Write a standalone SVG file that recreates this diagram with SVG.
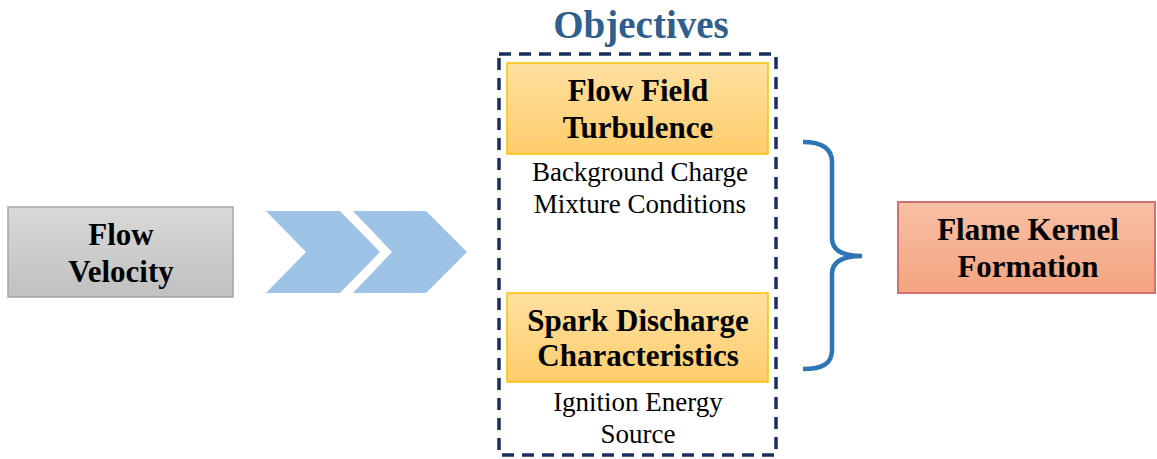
<svg xmlns="http://www.w3.org/2000/svg" width="1157" height="459" viewBox="0 0 1157 459">
<defs>
<linearGradient id="gGray" x1="0" y1="0" x2="0" y2="1"><stop offset="0" stop-color="#d9d9d9"/><stop offset="1" stop-color="#c0c0c0"/></linearGradient>
<linearGradient id="gGold" x1="0" y1="0" x2="0" y2="1"><stop offset="0" stop-color="#ffe0a0"/><stop offset="1" stop-color="#ffcd6c"/></linearGradient>
<linearGradient id="gSalmon" x1="0" y1="0" x2="0" y2="1"><stop offset="0" stop-color="#f7c0a6"/><stop offset="1" stop-color="#f4a47f"/></linearGradient>
</defs>
<style>
.bold{font-family:"Liberation Serif","Times New Roman",serif;font-weight:bold;font-size:31px;fill:#000;text-anchor:middle}
.reg{font-family:"Liberation Serif","Times New Roman",serif;font-size:27px;fill:#000;text-anchor:middle}
.chev{fill:#9dc3e6}
</style>
<rect width="1157" height="459" fill="#fff"/>
<text x="641" y="38" style="font-family:'Liberation Serif','Times New Roman',serif;font-weight:bold;font-size:39px;fill:#2e5f8d;text-anchor:middle">Objectives</text>
<g id="objectives-frame">
<rect x="499" y="54" width="277" height="401" fill="none" stroke="#1a2f5e" stroke-width="3.5" stroke-dasharray="12,8"/>
</g>
<g id="flow-velocity">
<rect x="8" y="207" width="225" height="90" fill="url(#gGray)" stroke="#a5a5a5" stroke-width="1.5"/>
<text class="bold" x="121" y="245">Flow</text>
<text class="bold" x="121" y="282">Velocity</text>
</g>
<g id="connectors">
<polygon class="chev" points="266,211 340,211 380,252 340,293 266,293 306,252"/>
<polygon class="chev" points="353,211 426,211 467,252 426,293 353,293 392,252"/>
<path d="M803,142 C822,142 832,148 832,162 L832,238 C832,250 842,256 862,256 C842,256 832,262 832,274 L832,350 C832,364 822,369 803,369" fill="none" stroke="#2e75b6" stroke-width="4.5"/>
</g>
<g id="flow-field">
<rect x="507" y="63" width="261" height="91" fill="url(#gGold)" stroke="#ffc000" stroke-width="1.5"/>
<text class="bold" x="638" y="101">Flow Field</text>
<text class="bold" x="638" y="138">Turbulence</text>
<text class="reg" x="640" y="181">Background Charge</text>
<text class="reg" x="640" y="213">Mixture Conditions</text>
</g>
<g id="spark-discharge">
<rect x="507" y="293" width="261" height="89" fill="url(#gGold)" stroke="#ffc000" stroke-width="1.5"/>
<text class="bold" x="638" y="331">Spark Discharge</text>
<text class="bold" x="638" y="366">Characteristics</text>
<text class="reg" x="638" y="411">Ignition Energy</text>
<text class="reg" x="638" y="443">Source</text>
</g>
<g id="flame-kernel">
<rect x="898" y="202" width="257" height="91" fill="url(#gSalmon)" stroke="#d46f6f" stroke-width="2"/>
<text class="bold" x="1028" y="240">Flame Kernel</text>
<text class="bold" x="1028" y="277">Formation</text>
</g>
</svg>
